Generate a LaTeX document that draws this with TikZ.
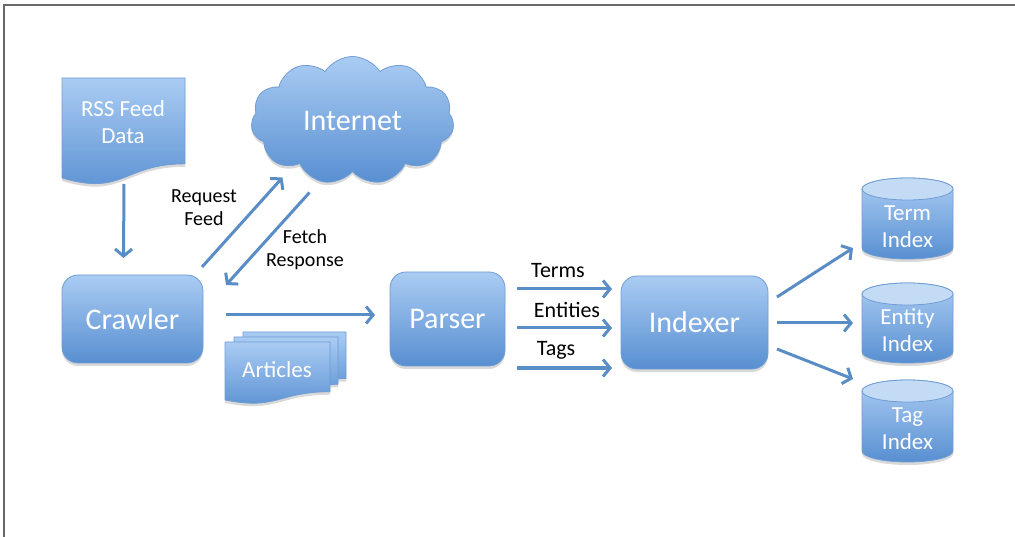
\documentclass[tikz,border=0pt]{standalone}
\usepackage{fontspec}
\setmainfont{Carlito}
\usetikzlibrary{arrows.meta,shapes.symbols,shadows,calc}

\definecolor{boxtop}{RGB}{170,204,243}
\definecolor{boxbot}{RGB}{88,143,209}
\definecolor{boxline}{RGB}{112,157,212}
\definecolor{captop}{RGB}{196,219,246}
\definecolor{arrowblue}{RGB}{90,140,198}
\definecolor{framegray}{RGB}{105,105,105}

\tikzset{
  boxfill/.style={top color=boxtop, bottom color=boxbot, draw=boxline, line width=0.8pt},
  softshadow/.style={drop shadow={shadow xshift=0pt, shadow yshift=-3pt, opacity=0.15, fill=black}},
  procbox/.style={boxfill, softshadow, rounded corners=16pt, text=white, inner sep=0pt,
    font=\fontsize{30}{34}\selectfont},
  whitelabel/.style={text=white, align=center, inner sep=0pt, font=\fontsize{23}{27}\selectfont},
  darklabel/.style={text=black, align=center, inner sep=0pt, font=\fontsize{20}{23}\selectfont},
  flowlabel/.style={text=black, inner sep=0pt, font=\fontsize{22}{26}\selectfont},
  flow/.style={draw=arrowblue, line width=3pt, -{Straight Barb[length=7pt,width=17pt]}},
  % document sheet with a wavy lower edge: left, top, width, height
  docpath/.style n args={4}{insert path={
    (#1,#2) -- ({#1+#3},#2) -- ({#1+#3},{#2+0.802*#4})
    .. controls ({#1+0.5*#3},{#2+0.802*#4}) and ({#1+0.5*#3},{#2+1.107*#4})
    .. (#1,{#2+0.934*#4}) -- cycle}},
  % database drum body: left, top, right, bottom
  drumpath/.style n args={4}{insert path={
    (#1,{#2+11}) -- (#1,{#4-11})
    .. controls (#1,{#4-4.92}) and ({(#1+#3)/2-0.5523*(#3-#1)/2},#4) .. ({(#1+#3)/2},#4)
    .. controls ({(#1+#3)/2+0.5523*(#3-#1)/2},#4) and (#3,{#4-4.92}) .. (#3,{#4-11})
    -- (#3,{#2+11})
    .. controls (#3,{#2+4.92}) and ({(#1+#3)/2+0.5523*(#3-#1)/2},#2) .. ({(#1+#3)/2},#2)
    .. controls ({(#1+#3)/2-0.5523*(#3-#1)/2},#2) and (#1,{#2+4.92}) .. (#1,{#2+11}) -- cycle}},
  drumcap/.style n args={4}{insert path={
    ({(#1+#3)/2},{#2+11}) ellipse [x radius={(#3-#1)/2}, y radius=11]}}
}

\begin{document}
\begin{tikzpicture}[x=1pt, y=-1pt]
  \useasboundingbox (0,0) rectangle (1015,537);
  \draw[framegray, line width=1.5pt] (4,537) -- (4,5) -- (1015,5);

  % RSS feed sheet
  \path[boxfill, softshadow, docpath={62}{78}{123}{107}];
  \node[whitelabel, minimum width=123pt, minimum height=100pt] (rss) at (123,122) {RSS Feed\\Data};

  % internet cloud
  \node[cloud, cloud puffs=11, cloud puff arc=115, aspect=1.6, boxfill, softshadow,
        minimum width=203pt, minimum height=128pt, inner sep=0pt, text=white,
        font=\fontsize{30}{34}\selectfont] (internet) at (352.5,120.5) {Internet};

  % processing stages
  \node[procbox, minimum width=141pt, minimum height=88pt] (crawler) at (132.5,319) {Crawler};
  \node[procbox, minimum width=115pt, minimum height=94pt] (parser) at (447.5,319) {Parser};
  \node[procbox, minimum width=147pt, minimum height=93pt] (indexer) at (694.5,322.5) {Indexer};

  % stacked article sheets
  \path[boxfill, softshadow, docpath={243}{332}{103}{58}];
  \path[boxfill, softshadow, docpath={234}{337}{104}{59}];
  \path[boxfill, softshadow, docpath={225}{342}{105}{62}];
  \node[whitelabel, minimum width=105pt, minimum height=50pt] (articles) at (277,370) {Articles};

  % index stores
  \path[boxfill, softshadow, drumpath={862}{178}{953}{259}];
  \path[fill=captop, draw=boxline, line width=0.8pt, drumcap={862}{178}{953}{259}];
  \node[whitelabel, minimum width=91pt, minimum height=60pt] (termidx) at (907.5,226.5) {Term\\Index};

  \path[boxfill, softshadow, drumpath={862}{283}{953}{363}];
  \path[fill=captop, draw=boxline, line width=0.8pt, drumcap={862}{283}{953}{363}];
  \node[whitelabel, minimum width=91pt, minimum height=60pt] (entityidx) at (907.5,330) {Entity\\Index};

  \path[boxfill, softshadow, drumpath={862}{380}{953}{462}];
  \path[fill=captop, draw=boxline, line width=0.8pt, drumcap={862}{380}{953}{462}];
  \node[whitelabel, minimum width=91pt, minimum height=60pt] (tagidx) at (907.5,428.5) {Tag\\Index};

  % connectors
  \draw[flow] ($(rss.center)+(1,62)$) -- ($(crawler.center)+(-9,-61)$);
  \draw[flow] ($(crawler.center)+(69.5,-52)$) -- ($(internet.center)+(-70,57)$);
  \draw[flow] ($(internet.center)+(-43,72)$) -- ($(crawler.center)+(93.5,-34)$);
  \draw[flow] ($(crawler.center)+(93.5,-4)$) -- ($(parser.center)+(-72.5,-4)$);
  \draw[flow] ($(parser.center)+(69.5,-30)$) -- ($(indexer.center)+(-82.5,-33.5)$);
  \draw[flow] ($(parser.center)+(69.5,9)$) -- ($(indexer.center)+(-82.5,5.5)$);
  \draw[flow] ($(parser.center)+(69.5,49)$) -- ($(indexer.center)+(-82.5,45.5)$);
  \draw[flow] ($(indexer.center)+(82.5,-25.5)$) -- ($(termidx.center)+(-54.5,21.5)$);
  \draw[flow] ($(indexer.center)+(82.5,0.5)$) -- ($(entityidx.center)+(-54.5,-7)$);
  \draw[flow] ($(indexer.center)+(82.5,26.5)$) -- ($(tagidx.center)+(-54.5,-49.5)$);

  % connector labels
  \node[darklabel] (lblrequest) at (204,208) {Request\\Feed};
  \node[darklabel] (lblfetch) at (305,250) {Fetch\\Response};
  \node[flowlabel] (lblterms) at (558,271) {Terms};
  \node[flowlabel] (lblentities) at (567,310) {Entities};
  \node[flowlabel] (lbltags) at (556,350) {Tags};
\end{tikzpicture}
\end{document}
